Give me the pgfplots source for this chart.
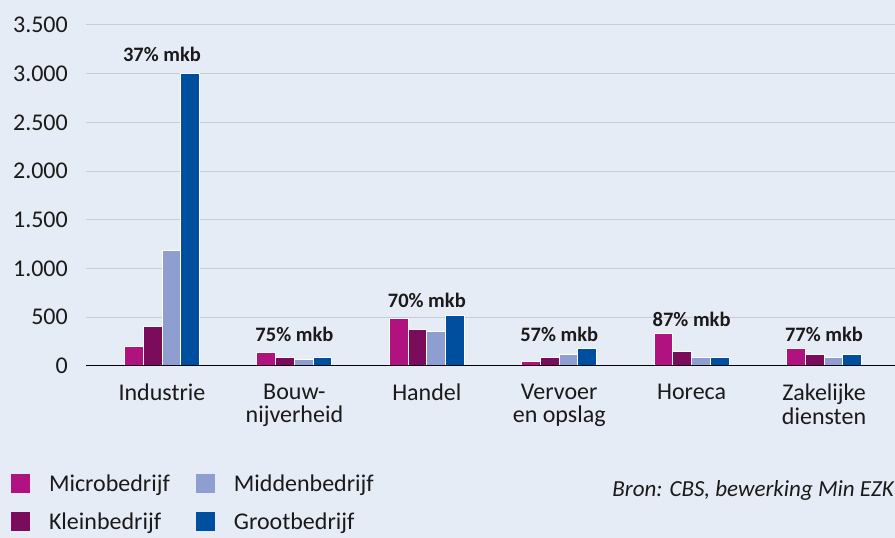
\documentclass[border=0pt]{standalone}
\usepackage{pgfplots}
\pgfplotsset{compat=1.18}
\usepackage{fontspec}
\setmainfont{Carlito}
\definecolor{bg}{HTML}{E6ECF5}
\definecolor{gridc}{HTML}{C8CCD2}
\definecolor{micro}{HTML}{B0137F}
\definecolor{klein}{HTML}{7B0C5C}
\definecolor{midden}{HTML}{8F9ED0}
\definecolor{groot}{HTML}{004F9F}
\definecolor{txt}{HTML}{1A1A1A}
\begin{document}
\begin{tikzpicture}
\fill[bg] (0pt,0pt) rectangle (895pt,538pt);
\begin{axis}[
  at={(86pt,172.3pt)}, anchor=south west,
  scale only axis, width=809pt, height=340.7pt,
  xmin=-0.574, xmax=5.536, ymin=0, ymax=3500,
  ybar=0pt, bar width=18.75pt,
  xtick={0,1,2,3,4,5},
  xticklabels={Industrie,{Bouw-\\nijverheid},Handel,{Vervoer\\en opslag},Horeca,{Zakelijke\\diensten}},
  ytick={0,500,...,3500},
  major tick length=0pt,
  axis line style={draw=none},
  ymajorgrids, grid style={gridc, line width=1pt},
  tick label style={font=\fontsize{24}{23.5}\selectfont, text=txt},
  yticklabel style={anchor=east, inner sep=0pt, xshift=-18pt},
  xticklabel style={align=center, anchor=north, inner sep=0pt, yshift=-18pt},
  /pgf/number format/1000 sep={.},
  /pgf/number format/assume math mode=true,
  every axis plot/.append style={draw=white, line width=1pt},
  clip=false,
  legend columns=2, transpose legend, legend cell align=left,
  legend style={draw=none, fill=none, at={(-0.0927,-0.3178)}, anchor=north west,
    inner sep=0pt, outer sep=0pt, font=\fontsize{24}{24}\selectfont, text=txt,
    nodes={inner sep=0pt, anchor=west},
    row sep=19.5pt, /tikz/every even column/.append style={column sep=26pt}},
  legend image code/.code={\path[#1,draw=none] (0pt,-9.5pt) rectangle (19pt,9.5pt); \path[draw=none,fill=none] (0pt,0pt) -- (38pt,0pt);},
]
\addplot[fill=micro] coordinates {(0,200) (1,133) (2,488) (3,41) (4,332) (5,174)};
\addlegendentry{Microbedrijf}
\addplot[fill=klein] coordinates {(0,400) (1,86) (2,376) (3,86) (4,150) (5,110)};
\addlegendentry{Kleinbedrijf}
\addplot[fill=midden] coordinates {(0,1185) (1,61) (2,355) (3,110) (4,86) (5,86)};
\addlegendentry{Middenbedrijf}
\addplot[fill=groot] coordinates {(0,3000) (1,86) (2,512) (3,174) (4,86) (5,110)};
\addlegendentry{Grootbedrijf}
\draw[black, line width=1.5pt] (rel axis cs:0,0) -- (rel axis cs:1,0);
\begin{scope}[every node/.style={font=\bfseries\fontsize{20.5}{20}\selectfont, text=txt, anchor=base}]
\node at (axis cs:0,3130) {37\% mkb};
\node at (axis cs:1,246) {75\% mkb};
\node at (axis cs:2,598) {70\% mkb};
\node at (axis cs:3,246) {57\% mkb};
\node at (axis cs:4,406) {87\% mkb};
\node at (axis cs:5,246) {77\% mkb};
\end{scope}
\end{axis}
\node[anchor=base east, inner sep=0pt, text=txt, font=\itshape\fontsize{23}{23}\selectfont] at (894pt,41.3pt) {Bron: CBS, bewerking Min EZK};
\pgfresetboundingbox
\path (0pt,0pt) rectangle (895pt,538pt);
\end{tikzpicture}
\end{document}
